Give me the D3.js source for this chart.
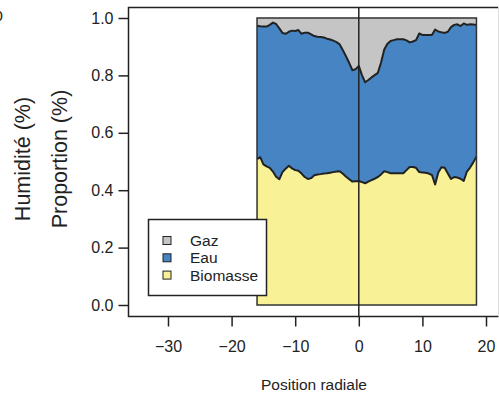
<!DOCTYPE html>
<html>
<head>
<meta charset="utf-8">
<script src="https://cdn.jsdelivr.net/npm/d3@7"></script>
<style>
  html, body { margin: 0; padding: 0; background: #fff; }
  svg { display: block; }
  text { font-family: "Liberation Sans", Arial, sans-serif; fill: #222; }
</style>
</head>
<body>
<svg id="chart" width="499" height="397"></svg>
<script>
// ---- Data ----
const positions = [-16,-15.5,-15,-14.5,-14,-13.5,-13,-12.5,-12,-11.5,-11,-10.5,-10,-9.5,-9,-8.5,-8,-7.5,-7,-6.5,-6,-5.5,-5,-4.5,-4,-3.5,-3,-2.5,-2,-1.5,-1,-0.5,0,0.5,1,1.5,2,2.5,3,3.5,4,4.5,5,5.5,6,6.5,7,7.5,8,8.5,9,9.5,10,10.5,11,11.5,12,12.5,13,13.5,14,14.5,15,15.5,16,16.5,17,17.5,18,18.5];
const biomasse = [0.508,0.515,0.490,0.483,0.478,0.465,0.447,0.438,0.463,0.475,0.485,0.476,0.470,0.468,0.458,0.446,0.439,0.442,0.452,0.455,0.456,0.458,0.459,0.461,0.463,0.465,0.466,0.457,0.447,0.438,0.430,0.431,0.432,0.428,0.424,0.430,0.435,0.440,0.446,0.455,0.466,0.463,0.459,0.459,0.459,0.459,0.459,0.470,0.481,0.481,0.478,0.463,0.462,0.461,0.458,0.453,0.420,0.462,0.480,0.478,0.458,0.439,0.446,0.444,0.440,0.432,0.465,0.479,0.497,0.517];
const eau = [0.465,0.456,0.480,0.487,0.498,0.519,0.532,0.526,0.485,0.470,0.467,0.480,0.485,0.490,0.487,0.503,0.510,0.501,0.485,0.480,0.478,0.474,0.469,0.464,0.458,0.451,0.442,0.431,0.419,0.405,0.388,0.391,0.401,0.373,0.352,0.354,0.358,0.361,0.363,0.390,0.424,0.447,0.461,0.464,0.467,0.467,0.467,0.452,0.434,0.437,0.445,0.483,0.479,0.480,0.483,0.488,0.540,0.491,0.470,0.470,0.494,0.529,0.530,0.534,0.532,0.549,0.511,0.499,0.480,0.459];
const gaz = [0.027,0.029,0.030,0.030,0.024,0.016,0.021,0.036,0.052,0.055,0.048,0.044,0.045,0.042,0.055,0.051,0.051,0.057,0.063,0.065,0.066,0.068,0.072,0.075,0.079,0.084,0.092,0.112,0.134,0.157,0.182,0.178,0.167,0.199,0.224,0.216,0.207,0.199,0.191,0.155,0.110,0.090,0.080,0.077,0.074,0.074,0.074,0.078,0.085,0.082,0.077,0.054,0.059,0.059,0.059,0.059,0.040,0.047,0.050,0.052,0.048,0.032,0.024,0.022,0.028,0.019,0.024,0.022,0.023,0.024];
const seriesKeys = ["biomasse", "eau", "gaz"];
const legendLabels = ["Gaz", "Eau", "Biomasse"];
const legendKeys = ["gaz", "eau", "biomasse"];
const xTicks = [-30, -20, -10, 0, 10, 20];
const yTicks = [0, 0.2, 0.4, 0.6, 0.8, 1.0];
const colors = { gaz: "#c5c5c5", eau: "#4684c3", biomasse: "#f8f195" };

// ---- Chart ----
const svg = d3.select("#chart");
const x = d3.scaleLinear().domain([-30, 20]).range([168, 486]);
const y = d3.scaleLinear().domain([0, 1]).range([305, 18]);

const rows = positions.map((p, i) => ({ pos: p, biomasse: biomasse[i], eau: eau[i], gaz: gaz[i] }));
const stacked = d3.stack().keys(seriesKeys)(rows);

const area = d3.area()
  .x(d => x(d.data.pos))
  .y0(d => y(d[0]))
  .y1(d => y(d[1]));

svg.append("g").selectAll("path")
  .data(stacked)
  .join("path")
  .attr("d", area)
  .attr("fill", d => colors[d.key])
  .attr("stroke", d => colors[d.key])
  .attr("stroke-width", 0.5);

// boundary lines
const line = d3.line().x(d => x(d.data.pos)).y(d => y(d[1]));
svg.append("g").selectAll("path")
  .data(stacked.slice(0, 2))
  .join("path")
  .attr("d", line)
  .attr("fill", "none")
  .attr("stroke", "#222")
  .attr("stroke-width", 2)
  .attr("stroke-linejoin", "round");

// outline of data region
const x0 = x(positions[0]), x1 = x(positions[positions.length - 1]);
svg.append("rect")
  .attr("x", x0).attr("y", y(1))
  .attr("width", x1 - x0).attr("height", y(0) - y(1))
  .attr("fill", "none").attr("stroke", "#333").attr("stroke-width", 1.5);

// vertical line at 0
svg.append("line")
  .attr("x1", x(0)).attr("x2", x(0))
  .attr("y1", 7).attr("y2", 316)
  .attr("stroke", "#222").attr("stroke-width", 1.5);

// frame
svg.append("path")
  .attr("d", "M498.5,7.5 H128.5 V316.5 H498.5")
  .attr("fill", "none").attr("stroke", "#222").attr("stroke-width", 1.5);
svg.append("line")
  .attr("x1", 498.5).attr("x2", 498.5).attr("y1", 7).attr("y2", 316)
  .attr("stroke", "#ddd").attr("stroke-width", 1);

// axes
const yAxis = svg.append("g")
  .attr("transform", "translate(128.5,0)")
  .call(d3.axisLeft(y).tickValues(yTicks).tickFormat(d3.format(".1f")).tickSize(10).tickPadding(5));
yAxis.select(".domain").remove();
yAxis.selectAll("line").attr("stroke", "#222").attr("stroke-width", 1.5);
yAxis.selectAll("text").style("font-size", "16px").attr("fill", "#222");

const xAxis = svg.append("g")
  .attr("transform", "translate(0,316.5)")
  .call(d3.axisBottom(x).tickValues(xTicks).tickFormat(d3.format("d")).tickSize(10).tickPadding(14));
xAxis.select(".domain").remove();
xAxis.selectAll("line").attr("stroke", "#222").attr("stroke-width", 1.5);
xAxis.selectAll("text").style("font-size", "16px").attr("fill", "#222");

// axis titles
svg.append("text")
  .attr("x", 314).attr("y", 390)
  .attr("text-anchor", "middle")
  .style("font-size", "15.5px")
  .text("Position radiale");
svg.append("text")
  .attr("transform", "translate(67,159) rotate(-90)")
  .attr("text-anchor", "middle")
  .style("font-size", "21.5px")
  .text("Proportion (%)");
svg.append("text")
  .attr("transform", "translate(30,159) rotate(-90)")
  .attr("text-anchor", "middle")
  .style("font-size", "21.5px")
  .text("Humidité (%)");
// clipped tick label from neighbouring axis
svg.append("text")
  .attr("x", 3).attr("y", 21)
  .attr("text-anchor", "end")
  .style("font-size", "15.5px")
  .text("100");

// legend
const lg = svg.append("g");
lg.append("rect")
  .attr("x", 148.5).attr("y", 219.5).attr("width", 118).attr("height", 76)
  .attr("fill", "#fff").attr("stroke", "#222").attr("stroke-width", 1.5);
legendKeys.forEach((k, i) => {
  const cy = 240.5 + i * 17.3;
  lg.append("rect")
    .attr("x", 163).attr("y", cy - 4).attr("width", 8).attr("height", 8)
    .attr("fill", colors[k]).attr("stroke", "#222").attr("stroke-width", 1);
  lg.append("text")
    .attr("x", 190).attr("y", cy + 5.5)
    .style("font-size", "15.5px")
    .text(legendLabels[i]);
});
</script>
</body>
</html>
